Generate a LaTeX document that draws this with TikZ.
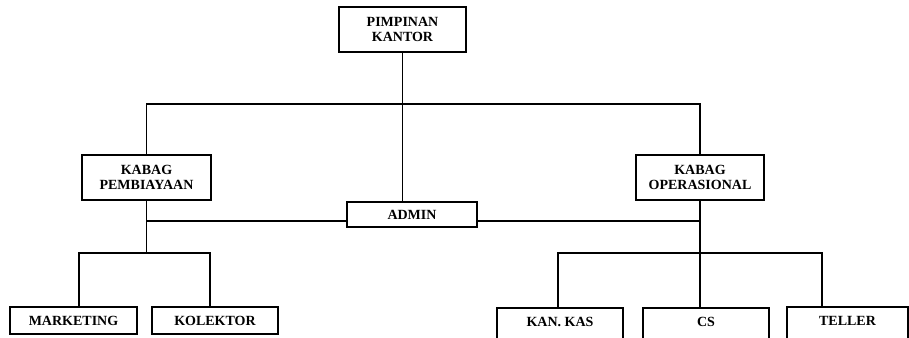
\documentclass[tikz,border=0pt]{standalone}
\usepackage{fontspec}
\setmainfont{Liberation Serif}
\usetikzlibrary{positioning,calc}

\begin{document}
\begin{tikzpicture}[
  x=1pt, y=-1pt,
  font=\fontsize{14}{15.5}\selectfont\bfseries,
  unit/.style={draw, line width=1.6pt, align=center, inner sep=0pt, minimum height=45pt},
  staff/.style={draw, line width=1.6pt, anchor=north, inner xsep=0pt, inner ysep=0pt,
                text height=19pt, text depth=8pt},
  link/.style={line width=1.6pt}
]
\useasboundingbox (0,0) rectangle (909,337);
\clip (0,0) rectangle (909,337);
\node[unit, minimum width=127pt] (pimpinan) at (402.5,29.5) {PIMPINAN\\KANTOR};
\node[unit, minimum width=129pt] (kpemb) at (146.5,177.5) {KABAG\\PEMBIAYAAN};
\node[unit, minimum width=128pt] (kops) at (700,177.5) {KABAG\\OPERASIONAL};
\node[staff, minimum width=130pt, text height=18pt, text depth=7pt] (admin) at (412,201) {ADMIN};
\node[staff, minimum width=127pt] (marketing) at (73.5,306) {MARKETING};
\node[staff, minimum width=126pt] (kolektor) at (215,306) {KOLEKTOR};
\node[staff, minimum width=126pt, text depth=30pt] (kankas) at (560,307) {KAN. KAS};
\node[staff, minimum width=126pt, text depth=30pt] (cs) at (706,307) {CS};
\node[staff, minimum width=121pt, text depth=30pt] (teller) at (847.5,306) {TELLER};
\coordinate (bus) at (403,104);
\coordinate (lbus) at (146.5,253);
\coordinate (rbus) at (700,253);
\coordinate (aw) at ([yshift=-6.5pt]admin.west);
\coordinate (ae) at ([yshift=-6.5pt]admin.east);
\draw[link] (pimpinan.south) -- (pimpinan.south |- admin.north);
\draw[link] (kpemb.north) |- (bus) -| (kops.north);
\draw[link] (kpemb.south) -- (lbus);
\draw[link] (kops.south) -- ([xshift=-6pt]cs.north);
\draw[link] (aw) -- (aw -| kpemb.south);
\draw[link] (ae) -- (ae -| kops.south);
\draw[link] ([xshift=5.5pt]marketing.north) |- (lbus) -| ([xshift=-5pt]kolektor.north);
\draw[link] ([xshift=-2pt]kankas.north) |- (rbus) -| ([xshift=-25.5pt]teller.north);
\end{tikzpicture}
\end{document}
